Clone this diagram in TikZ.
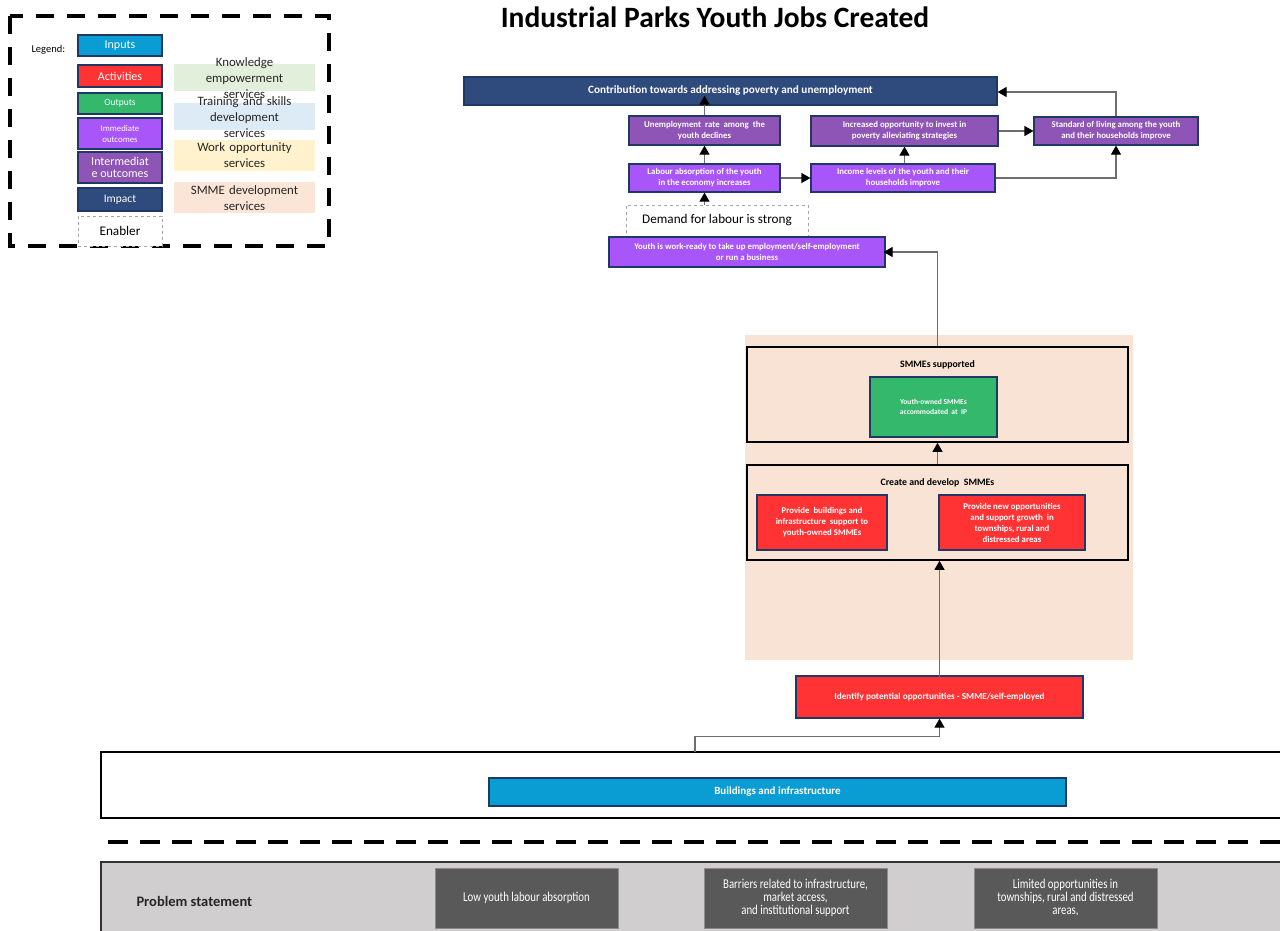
\documentclass[tikz,border=0pt]{standalone}
\usepackage{fontspec}
\setmainfont{Carlito}
\newfontfamily\narrowfont[FakeStretch=0.8]{Carlito}
\usetikzlibrary{arrows.meta,calc}

\definecolor{cInput}{HTML}{0A9DD4}
\definecolor{cAct}{HTML}{FF3333}
\definecolor{cOut}{HTML}{33B86C}
\definecolor{cImm}{HTML}{A855FA}
\definecolor{cInt}{HTML}{8E55B6}
\definecolor{cImp}{HTML}{2F4A7D}
\definecolor{cNavy}{HTML}{1F3864}
\definecolor{cPeach}{HTML}{F8E3D5}
\definecolor{cGrey}{HTML}{D0CECE}
\definecolor{cDark}{HTML}{595959}
\definecolor{cLine}{HTML}{6E6E6E}
\definecolor{cKnow}{HTML}{E2EFDA}
\definecolor{cTrain}{HTML}{DDEBF7}
\definecolor{cWork}{HTML}{FFF2CC}
\definecolor{cSmme}{HTML}{FBE5D6}

\begin{document}
\begin{tikzpicture}[x=1pt,y=-1pt,
  box/.style={draw=cNavy, line width=1.2pt, text=white, align=center,
    inner sep=1pt, font=\fontsize{8.8}{11}\selectfont\bfseries},
  impactbox/.style={box, fill=cImp},
  intbox/.style={box, fill=cInt},
  immbox/.style={box, fill=cImm},
  outbox/.style={box, fill=cOut},
  actbox/.style={box, fill=cAct},
  inbox/.style={box, fill=cInput},
  enablerbox/.style={draw=black!35, dashed, line width=1pt, fill=white, text=black,
    align=center, font=\fontsize{13.2}{15}\selectfont},
  groupbox/.style={draw=black, line width=1.6pt},
  grouplabel/.style={text=black, font=\fontsize{9.8}{11}\selectfont\bfseries},
  probbox/.style={fill=cDark, draw=black!45, line width=0.6pt, text=white, align=center,
    font=\narrowfont\fontsize{13.5}{13}\selectfont},
  legbox/.style={draw=cNavy, line width=1.6pt, text=white, align=center,
    minimum width=84, inner sep=1pt, font=\fontsize{12}{13}\selectfont},
  servbox/.style={draw=none, minimum width=141, text width=150, align=center,
    text=black!85, font=\fontsize{12.8}{16}\selectfont},
  conn/.style={draw=cLine, line width=1.2pt,
    -{Triangle[width=10pt,length=9pt,color=black]}},
  plain/.style={draw=cLine, line width=1.2pt}
]
\useasboundingbox (0,0) rectangle (1280,930);
\clip (0,0) rectangle (1280,930);

% ---------- title ----------
\node[font=\fontsize{29.5}{32}\selectfont\bfseries] (title) at (715,17) {Industrial Parks Youth Jobs Created};

% ---------- legend ----------
\draw[line width=4.5pt, dash pattern=on 18pt off 13pt] (10,16) rectangle (329,246);
\node[font=\fontsize{10.5}{12}\selectfont, anchor=west] (legtitle) at (28,50) {Legend:};
\node[legbox, fill=cInput, minimum height=21] (lIn) at (120,45.5) {Inputs};
\node[legbox, fill=cAct, minimum height=22] (lAct) at (120,76) {Activities};
\node[legbox, fill=cOut, minimum height=21, font=\fontsize{9.5}{11}\selectfont] (lOut) at (120,103.5) {Outputs};
\node[legbox, fill=cImm, minimum height=31, font=\fontsize{8.8}{11}\selectfont] (lImm) at (120,133.5) {Immediate\\outcomes};
\node[legbox, fill=cInt, minimum height=31, font=\fontsize{12}{12.5}\selectfont] (lInt) at (120,167.5) {Intermediat\\e outcomes};
\node[legbox, fill=cImp, minimum height=23, font=\fontsize{11.5}{13}\selectfont] (lImp) at (120,199.5) {Impact};
\node[enablerbox, minimum width=84, minimum height=30] (lEn) at (120,231) {Enabler};

\fill[cKnow] (174,64) rectangle (315,91);
\fill[cTrain] (174,103) rectangle (315,130);
\fill[cWork] (174,140) rectangle (315,171);
\fill[cSmme] (174,182) rectangle (315,213);
\node[servbox] (sKnow) at (244.5,78) {Knowledge\\empowerment\\services};
\node[servbox] (sTrain) at (244.5,117) {Training and skills\\development\\services};
\node[servbox] (sWork) at (244.5,155.5) {Work opportunity\\services};
\node[servbox] (sSmme) at (244.5,198) {SMME development\\services};

% ---------- outcome chain ----------
\node[impactbox, minimum width=533, minimum height=28, font=\fontsize{11.2}{13}\selectfont\bfseries] (impact) at (730.5,91)
  {Contribution towards addressing poverty and unemployment};
\node[intbox, minimum width=151, minimum height=29] (unemp) at (704.5,130.5)
  {Unemployment\ \ rate\ \ among\ \ the\\youth declines};
\node[intbox, minimum width=187, minimum height=30] (incopp) at (904.5,131)
  {Increased opportunity to invest in\\poverty alleviating strategies};
\node[intbox, minimum width=164, minimum height=28] (stdliv) at (1116,131)
  {Standard of living among the youth\\and their households improve};
\node[immbox, minimum width=151, minimum height=28] (labour) at (704.5,178)
  {Labour absorption of the youth\\in the economy increases};
\node[immbox, minimum width=184, minimum height=28] (income) at (903,178)
  {Income levels of the youth and their\\households improve};
\node[enablerbox, minimum width=182, minimum height=31] (demand) at (717,220.5)
  {Demand for labour is strong};
\node[immbox, minimum width=276, minimum height=30] (ready) at (747,252)
  {Youth is work-ready to take up employment/self-employment\\or run a business};

% ---------- SMME development area ----------
\fill[cPeach] (745,335) rectangle (1133,660);
\node[groupbox, minimum width=381, minimum height=95] (supp) at (937.5,394.5) {};
\node[grouplabel] (supplabel) at (937.5,365) {SMMEs supported};
\node[outbox, minimum width=127, minimum height=60, font=\fontsize{7.5}{10}\selectfont\bfseries] (ysmme) at (933.5,407)
  {Youth-owned SMMEs\\accommodated\ \ at\ \ IP};
\node[groupbox, minimum width=381, minimum height=95] (create) at (937.5,512.5) {};
\node[grouplabel] (createlabel) at (937.5,483) {Create and develop\ \ SMMEs};
\node[actbox, minimum width=130, minimum height=55] (provbld) at (822,522.5)
  {Provide\ \ buildings and\\infrastructure\ \ support to\\youth-owned SMMEs};
\node[actbox, minimum width=146, minimum height=55] (provnew) at (1012,522.5)
  {Provide new opportunities\\and support growth\ \ in\\townships, rural and\\distressed areas};

\node[actbox, minimum width=287, minimum height=42, font=\fontsize{9.2}{11}\selectfont\bfseries] (identify) at (939.5,697)
  {Identify potential opportunities - SMME/self-employed};

% ---------- inputs ----------
\node[draw=black, line width=1.5pt, fill=white, minimum width=1189, minimum height=66] (inputs) at (695.5,785) {};
\node[inbox, minimum width=577, minimum height=28, font=\fontsize{11}{13}\selectfont\bfseries] (build) at (777.5,792)
  {Buildings and infrastructure};

% ---------- separator ----------
\draw[line width=3.5pt, dash pattern=on 20pt off 12pt] (108,842) -- (1290,842);

% ---------- problem statement ----------
\node[fill=cGrey, draw=black!80, line width=1.5pt, minimum width=1189, minimum height=80] (problem) at (695.5,902) {};
\node[anchor=west, font=\fontsize{14.5}{16}\selectfont\bfseries, text=black!85] (problabel) at (133,901) {Problem statement};
\node[probbox, minimum width=183, minimum height=60] (p1) at (526.5,898) {Low youth labour absorption};
\node[probbox, minimum width=183, minimum height=60] (p2) at (795.5,898)
  {Barriers related to infrastructure,\\market access,\\and institutional support};
\node[probbox, minimum width=183, minimum height=60] (p3) at (1065.5,898)
  {Limited opportunities in\\townships, rural and distressed\\areas,};

% ---------- connectors ----------
\draw[conn] (unemp.north) -- ([yshift=10pt]impact.south -| unemp.north);
\draw[conn] (labour.north) -- (unemp.south);
\draw[conn] (demand.north -| labour.south) -- (labour.south);
\draw[conn] (labour.east) -- (income.west);
\draw[conn] (income.north -| incopp.south) -- (incopp.south);
\draw[conn] (incopp.east) -- (stdliv.west);
\draw[conn] (income.east) -| (stdliv.south);
\draw[conn] (stdliv.north) |- ([yshift=-1pt]impact.east);
\draw[conn] (supp.north) |- ([xshift=-2pt]ready.east);
\draw[conn] (create.north) -- (supp.south);
\draw[conn] ([yshift=-8pt]identify.north) -- (identify.north |- create.south);
\coordinate (inTap) at (695,752);
\draw[conn] (inTap) |- ($(identify.south)+(0,18)$) -- (identify.south);
\end{tikzpicture}
\end{document}
